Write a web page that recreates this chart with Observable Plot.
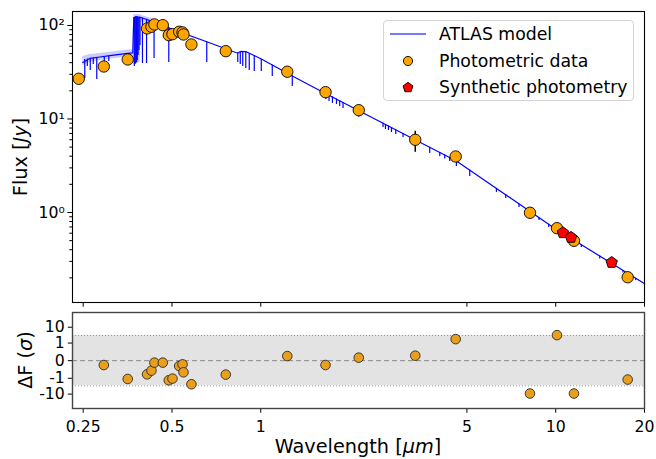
<!DOCTYPE html>
<html><head><meta charset="utf-8">
<script src="https://cdn.jsdelivr.net/npm/d3@7"></script>
<script src="https://cdn.jsdelivr.net/npm/@observablehq/plot@0.6"></script>
<style>
body{margin:0;background:#fff;}
#chart{position:relative;width:656px;height:459px;font-family:"DejaVu Sans",sans-serif;color:#000;overflow:hidden;}
#chart svg{position:absolute;left:0;}
.lbl{position:absolute;font-size:19.3px;white-space:nowrap;line-height:1;}
#legend{position:absolute;left:383px;top:20px;width:251px;height:81px;border:1px solid #d4d4d4;border-radius:4px;background:rgba(255,255,255,0.8);box-sizing:border-box;}
.lrow{position:absolute;left:0;height:20px;width:250px;}
.lrow svg{position:absolute !important;left:0;top:0;}
.lrow span{position:absolute;left:55px;top:0;font-size:17.3px;line-height:20px;white-space:nowrap;}
</style></head><body><div id="chart"></div>
<script>
// ---------------- data ----------------
const xDomain = [0.23, 20];
const xTicks = [0.25, 0.5, 1, 5, 10, 20];
const xTickLabels = ["0.25", "0.5", "1", "5", "10", "20"];
const fluxDomain = [0.109, 141];
const fluxTicks = [1, 10, 100];
const fluxTickLabels = ["10\u2070", "10\u00b9", "10\u00b2"];
const fluxMinorTicks = [0.2,0.3,0.4,0.5,0.6,0.7,0.8,0.9,2,3,4,5,6,7,8,9,20,30,40,50,60,70,80,90];
const residTicks = [-10, -1, 0, 1, 10];
const residTickLabels = ["-10", "-1", "0", "1", "10"];
const residDomainT = [-3.02, 3.04];   // in symlog units
const sigmaBand = [-3, 3];
const zeroLine = [0];

// ATLAS model continuum
const modelWave = [0.2492,0.2632,0.2846,0.3126,0.3327,0.3540,0.3682,0.3711,0.3770,0.3918,0.4108,0.4338,0.4790,0.6560,0.8228,0.8356,0.8556,0.8965,1.012,1.102,1.289,1.585,3.372,4.606,9.791,20.03];
const modelFlux = [40.2,44.4,46.0,47.8,49.0,50.2,50.8,121.8,123.9,121.8,115.9,108.5,95.9,66.9,51.4,50.8,52.7,52.1,43.3,37.3,28.5,20.2,5.89,3.555,0.6965,0.1727];
// model absorption lines: wavelength, continuum flux, line-core flux
const lineWave = [0.2531,0.2582,0.2642,0.2705,0.2780,0.2948,0.3053,
  0.3726,0.3749,0.3770,0.3793,0.3814,0.3838,0.3864,0.3895,0.3971,0.4100,0.4348,0.4877,0.6560,
  0.8356,0.8522,0.8689,0.8897,0.9141,0.9506,1.004,1.094,1.279,
  1.626,1.661,1.704,1.750,1.806,1.852,1.901,2.149,2.598,2.647,2.710,2.774,2.869,3.037,
  3.740,4.045,4.205,4.372,4.606,5.111,6.295,6.769,7.509,8.777,9.469,12.22,14.10,16.91,18.67];
const lineTop = [43.3,43.8,44.4,44.4,45.5,46.0,47.2,
  121.8,122,123.9,123,123,122,122,122,120.3,116.5,108.2,94.7,66.9,
  50.8,52.5,52.7,52.2,50.2,47.2,43.6,37.6,28.9,
  19.35,18.70,17.93,17.20,16.32,15.65,14.98,12.27,9.02,8.73,8.42,8.09,7.66,6.98,
  4.98,4.39,4.12,3.87,3.555,2.84,1.81,1.55,1.236,0.882,0.748,0.452,0.3425,0.240,0.1983];
const lineBot = [27.1,36.4,33.0,38.3,26.5,38.3,41.2,
  36.4,38.3,39.2,40.2,42.2,47.8,54.0,61.1,39.2,39.2,44.4,40.2,40.2,
  40.2,38.3,36.4,34.7,33.0,32.2,32.2,28.5,22.3,
  16.98,16.17,15.39,14.65,14.29,13.60,12.95,10.45,8.11,7.72,7.53,7.17,6.83,6.34,
  4.28,3.97,3.73,3.51,3.10,2.43,1.64,1.41,1.131,0.821,0.691,0.422,0.318,0.2254,0.1874];
// model uncertainty envelope
const bandWave = [0.2492,0.2632,0.2846,0.3126,0.3327,0.3540,0.3682,0.3711,0.3903,0.3940,0.4108,0.4338];
const bandLo = [37.3,40.2,42.2,43.8,44.9,46.0,46.6,38.3,40.2,109.0,106.3,100.0];
const bandHi = [46.6,49.0,50.2,52.1,53.4,54.7,55.4,131.1,131.1,127.9,123.3,117.3];

// photometry
const photWave = [0.2415,0.2937,0.354,0.4117,0.426,0.436,0.4655,0.4877,0.502,0.529,0.543,0.547,0.582,0.761,1.23,1.658,2.149,3.34,4.58,8.18,10.10,11.53,17.54];
const photFlux = [26.9,36.4,43.3,92.9,96.9,102.5,100.7,78.8,80.7,85.6,84.2,80.1,62.6,53.1,32.0,19.35,12.42,5.99,3.97,0.993,0.679,0.498,0.203];
const photResid = [null,-0.249,-1.11,-0.776,-0.566,-0.113,-0.113,-1.34,-1.05,-0.306,-0.21,-0.662,-2.39,-0.793,0.26,-0.249,0.17,0.283,1.77,-9.2,3.16,-9.2,-1.21];
const errWave = [3.34];
const errLo = [4.41];
const errHi = [7.40];
const synthWave = [10.58, 11.27, 15.48];
const synthFlux = [0.607, 0.541, 0.292];
const legendLabels = ["ATLAS model", "Photometric data", "Synthetic photometry"];

// ---------------- build ----------------
const model = modelWave.map((w, i) => ({w, f: modelFlux[i]}));
const lines = lineWave.map((w, i) => ({w, top: lineTop[i], bot: lineBot[i]}));
const band = bandWave.map((w, i) => ({w, lo: bandLo[i], hi: bandHi[i]}));
const phot = photWave.map((w, i) => ({w, f: photFlux[i], r: photResid[i]}));
const errs = errWave.map((w, i) => ({w, lo: errLo[i], hi: errHi[i]}));
const synth = synthWave.map((w, i) => ({w, f: synthFlux[i]}));
const resid = phot.filter(d => d.r !== null);
const residTickData = residTicks.map((v, i) => ({v, label: residTickLabels[i]}));

const pentagon = {draw(ctx, size) {
  const r = Math.sqrt(size / Math.PI);
  for (let k = 0; k < 5; k++) {
    const a = -Math.PI / 2 + k * 2 * Math.PI / 5;
    const x = r * Math.cos(a), y = r * Math.sin(a);
    if (k) ctx.lineTo(x, y); else ctx.moveTo(x, y);
  }
  ctx.closePath();
}};
// short outward tick used for the symlog residual axis
const TICK = 4.7;
const tickMark = {draw(ctx) { ctx.moveTo(-TICK, 0); ctx.lineTo(0, 0); }};

const LS = 1 / (1 - 1 / 10);
const symlog = v => { const a = Math.abs(v); return a <= 1 ? v * LS : Math.sign(v) * (LS + Math.log10(a)); };

const font = {fontFamily: "DejaVu Sans", fontSize: "15.7px", overflow: "visible", background: "transparent"};
const BLUE = "#0000ff";

const topPlot = Plot.plot({
  width: 656, height: 308,
  marginLeft: 72, marginRight: 12, marginTop: 11, marginBottom: 6,
  style: font,
  x: {type: "log", domain: xDomain},
  y: {type: "log", domain: fluxDomain},
  marks: [
    Plot.areaY(band, {x: "w", y1: "lo", y2: "hi", fill: BLUE, fillOpacity: 0.2}),
    Plot.line(model, {x: "w", y: "f", stroke: BLUE, strokeWidth: 1.2}),
    Plot.ruleX(lines, {x: "w", y1: "top", y2: "bot", stroke: BLUE, strokeWidth: 1.2}),
    Plot.ruleX(errs, {x: "w", y1: "lo", y2: "hi", stroke: "black", strokeWidth: 1.5}),
    Plot.dot(phot, {x: "w", y: "f", r: 5.7, fill: "orange", stroke: "black", strokeWidth: 0.9}),
    Plot.dot(synth, {x: "w", y: "f", r: 6, symbol: pentagon, fill: "red", stroke: "black", strokeWidth: 0.9}),
    Plot.axisX({ticks: xTicks, tickFormat: () => "", tickSize: TICK, label: null}),
    Plot.axisY({ticks: fluxTicks, tickFormat: v => fluxTickLabels[fluxTicks.indexOf(v)], tickSize: TICK, tickPadding: 3, label: null}),
    Plot.axisY({ticks: fluxMinorTicks, tickFormat: () => "", tickSize: 2.7, label: null}),
    Plot.frame({stroke: "black", strokeWidth: 1.1})
  ]
});

const botPlot = Plot.plot({
  width: 656, height: 151,
  marginLeft: 72, marginRight: 12, marginTop: 4, marginBottom: 51,
  style: font,
  x: {type: "log", domain: xDomain},
  y: {type: "linear", transform: symlog, domain: residDomainT, axis: null},
  marks: [
    Plot.rect([sigmaBand], {x1: xDomain[0], x2: xDomain[1], y1: d => d[0], y2: d => d[1], fill: "#e3e3e3"}),
    Plot.ruleY(sigmaBand, {stroke: "#999", strokeWidth: 1, strokeDasharray: "1,2"}),
    Plot.ruleY(zeroLine, {stroke: "#888", strokeWidth: 1, strokeDasharray: "5,3"}),
    Plot.dot(resid, {x: "w", y: "r", r: 4.8, fill: "#e99e1c", stroke: "#2a2a2a", strokeWidth: 0.9}),
    Plot.axisX({ticks: xTicks, tickFormat: v => xTickLabels[xTicks.indexOf(v)], tickSize: TICK, tickPadding: 8, label: null}),
    // symlog y axis: ticks and labels placed through the transformed y scale
    Plot.dot(residTickData, {y: "v", frameAnchor: "left", symbol: tickMark, r: 1, fill: "none", stroke: "black", strokeWidth: 1}),
    Plot.text(residTickData, {y: "v", frameAnchor: "left", text: "label", textAnchor: "end", dx: -(TICK + 3), fontSize: 15.7}),
    Plot.frame({stroke: "#444", strokeWidth: 1.4})
  ]
});

const chart = document.getElementById("chart");
topPlot.style.top = "0px";
botPlot.style.top = "308px";
chart.appendChild(topPlot);
chart.appendChild(botPlot);

function addLabel(html, x, y, rotate) {
  const d = document.createElement("div");
  d.className = "lbl";
  d.innerHTML = html;
  d.style.left = x + "px";
  d.style.top = y + "px";
  d.style.transform = "translate(-50%,-50%)" + (rotate ? " rotate(-90deg)" : "");
  chart.appendChild(d);
}
addLabel("Wavelength [<i>\u03bcm</i>]", 358, 447, false);
addLabel("Flux [<i>Jy</i>]", 21, 157, true);
addLabel("\u0394F (<i>\u03c3</i>)", 26, 360, true);

// legend
const legend = document.createElement("div");
legend.id = "legend";
chart.appendChild(legend);
const rowY = [3.3, 30, 56];
legendLabels.forEach((lab, i) => {
  const row = document.createElement("div");
  row.className = "lrow";
  row.style.top = rowY[i] + "px";
  const ns = "http://www.w3.org/2000/svg";
  const s = document.createElementNS(ns, "svg");
  s.setAttribute("width", "50"); s.setAttribute("height", "20");
  let el;
  if (i === 0) {
    el = document.createElementNS(ns, "line");
    el.setAttribute("x1", 6); el.setAttribute("x2", 42); el.setAttribute("y1", 10); el.setAttribute("y2", 10);
    el.setAttribute("stroke", BLUE); el.setAttribute("stroke-opacity", 0.7); el.setAttribute("stroke-width", 1.4);
  } else if (i === 1) {
    el = document.createElementNS(ns, "circle");
    el.setAttribute("cx", 24); el.setAttribute("cy", 10); el.setAttribute("r", 4.6);
    el.setAttribute("fill", "orange"); el.setAttribute("stroke", "black"); el.setAttribute("stroke-width", 0.9);
  } else {
    el = document.createElementNS(ns, "path");
    const p = d3.path(); pentagon.draw(p, Math.PI * 5.2 * 5.2);
    el.setAttribute("d", p.toString()); el.setAttribute("transform", "translate(24,10.5)");
    el.setAttribute("fill", "red"); el.setAttribute("stroke", "black"); el.setAttribute("stroke-width", 0.9);
  }
  s.appendChild(el);
  row.appendChild(s);
  const sp = document.createElement("span");
  sp.textContent = lab;
  row.appendChild(sp);
  legend.appendChild(row);
});
</script></body></html>
